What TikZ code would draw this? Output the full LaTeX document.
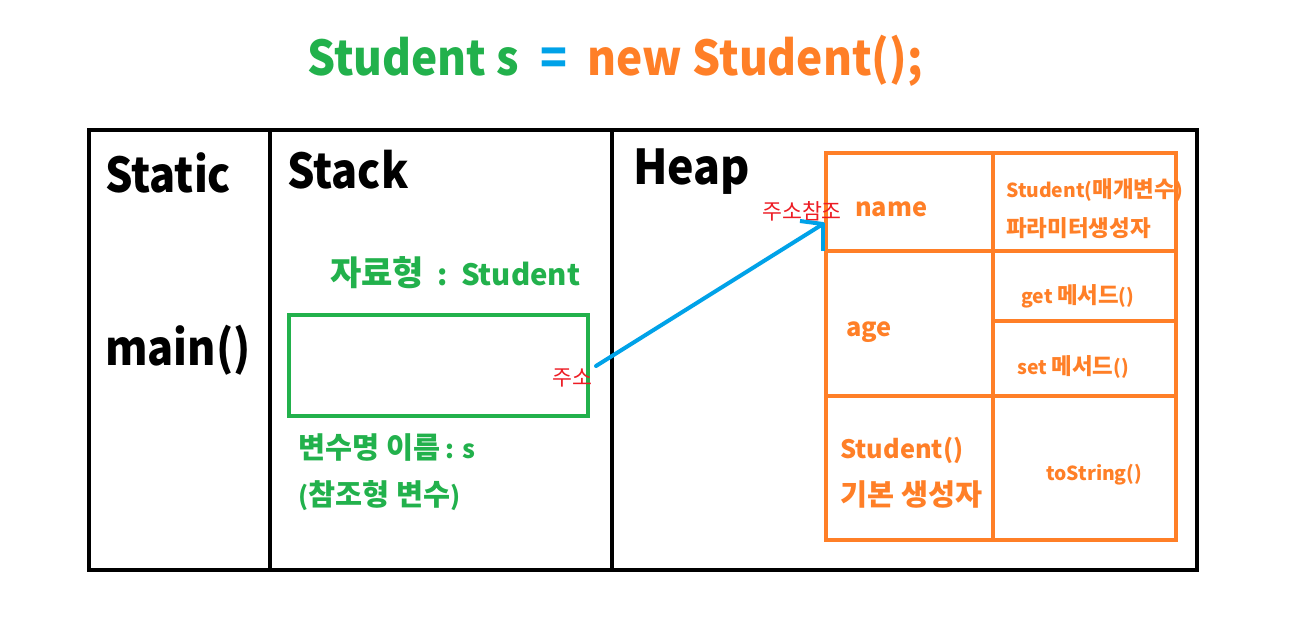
\documentclass[tikz,border=0pt]{standalone}
\usepackage{fontspec}
\setmainfont{Noto Sans CJK KR}
\newfontfamily\kr{Noto Sans CJK KR}[Scale=1.16]
\newcommand{\K}[1]{{\kr #1}}
\newcommand{\nx}[1]{\scalebox{0.9}[1]{#1}}
\definecolor{grn}{RGB}{34,177,76}
\definecolor{orng}{RGB}{255,127,39}
\definecolor{blu}{RGB}{0,162,232}
\definecolor{rd}{RGB}{237,28,36}
\begin{document}
\begin{tikzpicture}[x=0.75pt,y=-0.75pt,
  frame/.style={draw=black,line width=3pt},
  obox/.style={draw=orng,line width=3pt},
  gbox/.style={draw=grn,line width=3pt},
  big/.style={font=\fontsize{36}{40}\selectfont\bfseries,anchor=base west,inner sep=0pt},
  gtxt/.style={text=grn,font=\fontsize{19}{22}\selectfont\bfseries,anchor=base west,inner sep=0pt},
  otxt/.style={text=orng,font=\fontsize{19}{22}\selectfont\bfseries,anchor=base west,inner sep=0pt},
  osml/.style={text=orng,font=\fontsize{14.5}{17}\selectfont\bfseries,anchor=base west,inner sep=0pt},
  rtxt/.style={text=rd,font=\fontsize{14}{17}\selectfont,anchor=base,inner sep=0pt},
  arr/.style={draw=blu,line width=3pt}]
\useasboundingbox (0,0) rectangle (1304,622);
\fill[white] (0,0) rectangle (1304,622);
% title
\node[font=\fontsize{36}{40}\selectfont\bfseries,anchor=base,inner sep=0pt] (title) at (615,75)
  {\scalebox{0.92}[1]{\textcolor{grn}{Student s}\hspace{17pt}\textcolor{blu}{=}\hspace{17pt}\textcolor{orng}{new Student();}}};
% memory frame
\draw[frame] (89,130) rectangle (1197,570);
\draw[frame] (270,130) -- (270,570);
\draw[frame] (612,130) -- (612,570);
\node[big] (static) at (105,192) {\nx{Static}};
\node[big] (stack) at (287,188) {\nx{Stack}};
\node[big] (heap) at (633,184) {\scalebox{0.93}[1]{Heap}};
\node[big] (main) at (105,365) {\nx{main()}};
% stack contents
\node[gtxt,font=\fontsize{22}{26}\selectfont\bfseries] (type) at (330,285) {\K{자료형}\hspace{10pt}:\hspace{10pt}Student};
\draw[gbox] (289,315) rectangle (588,416);
\node[rtxt] (addr) at (572,385) {\K{주소}};
\node[gtxt] (var) at (298,458) {\K{변수명 이름} : s};
\node[gtxt] (ref) at (298,505) {(\K{참조형 변수})};
% heap object
\draw[obox] (826,153) rectangle (1176,540);
\draw[obox] (993,153) -- (993,540);
\draw[obox] (826,251) -- (1176,251);
\draw[obox] (826,396) -- (1176,396);
\draw[obox] (993,321) -- (1176,321);
\node[otxt] (name) at (855,216) {name};
\node[osml] (ctor) at (1006,197) {Student(\K{매개변수})};
\node[osml] (param) at (1006,236) {\K{파라미터생성자}};
\node[otxt] (age) at (846,336) {age};
\node[osml] (get) at (1021,303) {get \K{메서드}()};
\node[osml] (set) at (1017,374) {set \K{메서드}()};
\node[otxt] (dctor) at (840,458) {Student()};
\node[otxt] (dname) at (840,505) {\K{기본 생성자}};
\node[osml] (tostr) at (1046,480) {toString()};
% reference arrow
\node[rtxt] (addrref) at (802,219) {\K{주소참조}};
\coordinate (arrS) at (596,366);
\coordinate (arrE) at (823,224);
\draw[arr,line cap=round] (arrS) -- (arrE);
\draw[arr] (arrE) -- ++(-23,-3);
\draw[arr] (arrE) -- ++(0,27);
\end{tikzpicture}
\end{document}
